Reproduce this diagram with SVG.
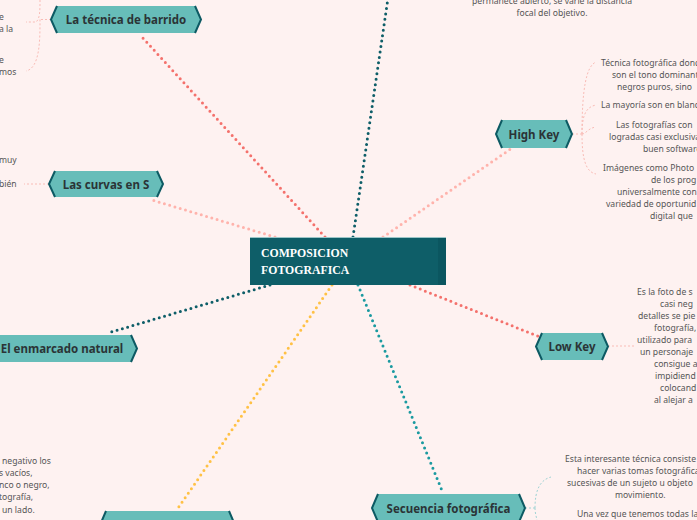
<svg xmlns="http://www.w3.org/2000/svg" width="697" height="520" viewBox="0 0 697 520">
<defs>
<style>
.bg{fill:#fef2f1}
.node{fill:#67bdb9}
.chev{fill:none;stroke:#0d5a63;stroke-width:2;stroke-linejoin:miter}
.lbl{font-family:"Noto Sans","Open Sans",sans-serif;font-weight:bold;font-size:11.5px;fill:#2b3436;text-anchor:middle}
.desc{font-family:"Noto Sans","Open Sans",sans-serif;font-size:8.6px;fill:#555}
.mid{text-anchor:middle}
.dot{fill:none;stroke-width:3;stroke-linecap:round;stroke-dasharray:0 5.5}
.thin{fill:none;stroke-width:1;stroke-dasharray:2 2}
.central{fill:#0e5e68}
.ctext{font-family:"Liberation Serif","Times New Roman",serif;font-weight:bold;font-size:11.8px;fill:#ffffff}
</style>
</defs>
<rect class="bg" x="0" y="0" width="697" height="520"/>

<g id="connectors">
<line class="dot" x1="325" y1="237" x2="142" y2="37" stroke="#f4716c"/>
<line class="dot" x1="275" y1="237" x2="152" y2="200" stroke="#ffb3ac"/>
<line class="dot" x1="353" y1="237" x2="388" y2="-2" stroke="#0e5e68"/>
<line class="dot" x1="383" y1="237" x2="512" y2="148" stroke="#ffb3ac"/>
<line class="dot" x1="410" y1="285" x2="540" y2="337" stroke="#f4716c"/>
<line class="dot" x1="358" y1="285" x2="443" y2="493" stroke="#1a9aa0"/>
<line class="dot" x1="332" y1="285" x2="176" y2="511" stroke="#ffc145"/>
<line class="dot" x1="270" y1="285" x2="108" y2="333" stroke="#0e5e68"/>

<path class="thin" stroke="#f9bcb6" d="M51,19.5 H40 M40,0 C40,10 40,19 36,22 L26,22 M40,19.5 C40,40 40,68 26,71"/>
<path class="thin" stroke="#f9bcb6" d="M49,184 H24"/>
<path class="thin" stroke="#f9bcb6" d="M572,134 H582 M582,134 C582,90 586,66 596,62 M582,134 C582,115 586,107 596,105 M582,134 C586,134 588,128 596,127 M582,134 C582,160 586,172 596,174"/>
<path class="thin" stroke="#f9bcb6" d="M608,346 H634"/>
<path class="thin" stroke="#9fd3d4" d="M525,508 H535 M535,508 C535,490 540,480 551,477 M535,508 C535,512 536,516 537,520"/>
</g>

<g id="center">
<rect class="central" x="250" y="237" width="196" height="48"/>
<rect x="438" y="237" width="8" height="48" fill="#0b5660"/>
<line x1="250" y1="237.5" x2="446" y2="237.5" stroke="#9cc6c8" stroke-width="1"/>
<text class="ctext" x="261" y="257">COMPOSICION</text>
<text class="ctext" x="261" y="274">FOTOGRAFICA</text>
</g>

<g id="n-barrido">
<polygon class="node" points="51,19.5 57,6 195,6 201,19.5 195,33 57,33"/>
<polyline class="chev" points="57,6 51,19.5 57,33"/>
<polyline class="chev" points="195,6 201,19.5 195,33"/>
<text class="lbl" x="126" y="24">La técnica de barrido</text>
</g>

<g id="n-curvas">
<polygon class="node" points="49,184 55,171 157,171 163,184 157,197 55,197"/>
<polyline class="chev" points="55,171 49,184 55,197"/>
<polyline class="chev" points="157,171 163,184 157,197"/>
<text class="lbl" x="106" y="188.5">Las curvas en S</text>
</g>

<g id="n-enmarcado">
<polygon class="node" points="-20,348.5 -14,335 131,335 137,348.5 131,362 -14,362"/>
<polyline class="chev" points="131,335 137,348.5 131,362"/>
<text class="lbl" x="62" y="353">El enmarcado natural</text>
</g>

<g id="n-highkey">
<polygon class="node" points="496,134 502,120 566,120 572,134 566,148 502,148"/>
<polyline class="chev" points="502,120 496,134 502,148"/>
<polyline class="chev" points="566,120 572,134 566,148"/>
<text class="lbl" x="534" y="138.5">High Key</text>
</g>

<g id="n-lowkey">
<polygon class="node" points="536,346.5 542,333 602,333 608,346.5 602,360 542,360"/>
<polyline class="chev" points="542,333 536,346.5 542,360"/>
<polyline class="chev" points="602,333 608,346.5 602,360"/>
<text class="lbl" x="572" y="351">Low Key</text>
</g>

<g id="n-secuencia">
<polygon class="node" points="372,508 378,494 519,494 525,508 519,522 378,522"/>
<polyline class="chev" points="378,494 372,508 378,522"/>
<polyline class="chev" points="519,494 525,508 519,522"/>
<text class="lbl" x="448.5" y="512.5">Secuencia fotográfica</text>
</g>

<g id="n-bottom">
<polygon class="node" points="100,525 106,511 229,511 235,525 229,539 106,539"/>
<polyline class="chev" points="106,511 100,525 106,539"/>
<polyline class="chev" points="229,511 235,525 229,539"/>
</g>

<g id="texts">
<text class="desc mid" x="552" y="4">permanece abierto, se varíe la distancia</text>
<text class="desc mid" x="552" y="16">focal del objetivo.</text>

<text class="desc" x="-1" y="20">e</text>
<text class="desc" x="-1" y="32">a la</text>
<text class="desc" x="-1" y="63">e</text>
<text class="desc" x="-1" y="75">mos</text>

<text class="desc" x="-1" y="163">muy</text>
<text class="desc" x="-1" y="187">bién</text>

<text class="desc" x="601" y="66">Técnica fotográfica donde</text>
<text class="desc" x="612" y="78">son el tono dominante</text>
<text class="desc" x="617" y="90">negros puros, sino</text>
<text class="desc" x="601" y="108">La mayoría son en blanco</text>
<text class="desc" x="616" y="128">Las fotografías con</text>
<text class="desc" x="609" y="140">logradas casi exclusiva</text>
<text class="desc" x="643" y="152">buen software</text>
<text class="desc" x="603" y="171">Imágenes como Photo</text>
<text class="desc" x="651" y="183">de los prog</text>
<text class="desc" x="617" y="195">universalmente con</text>
<text class="desc" x="606" y="207">variedad de oportunid</text>
<text class="desc" x="650" y="219">digital que</text>

<text class="desc" x="637" y="295">Es la foto de s</text>
<text class="desc" x="660" y="307">casi neg</text>
<text class="desc" x="638" y="319">detalles se pie</text>
<text class="desc" x="654" y="331">fotografía,</text>
<text class="desc" x="637" y="343">utilizado para</text>
<text class="desc" x="640" y="355">un personaje</text>
<text class="desc" x="654" y="367">consigue a</text>
<text class="desc" x="655" y="379">impidiend</text>
<text class="desc" x="660" y="391">colocand</text>
<text class="desc" x="654" y="403">al alejar a</text>

<text class="desc" x="565" y="462">Esta interesante técnica consiste</text>
<text class="desc" x="577" y="474">hacer varias tomas fotográficas</text>
<text class="desc" x="567" y="486">sucesivas de un sujeto u objeto</text>
<text class="desc" x="615" y="498">movimiento.</text>
<text class="desc" x="577" y="517">Una vez que tenemos todas las</text>

<text class="desc" x="2" y="464">negativo los</text>
<text class="desc" x="-1" y="476">s vacíos,</text>
<text class="desc" x="-1" y="488">nco o negro,</text>
<text class="desc" x="-1" y="500">tografía,</text>
<text class="desc" x="2" y="513">un lado.</text>
</g>
</svg>
